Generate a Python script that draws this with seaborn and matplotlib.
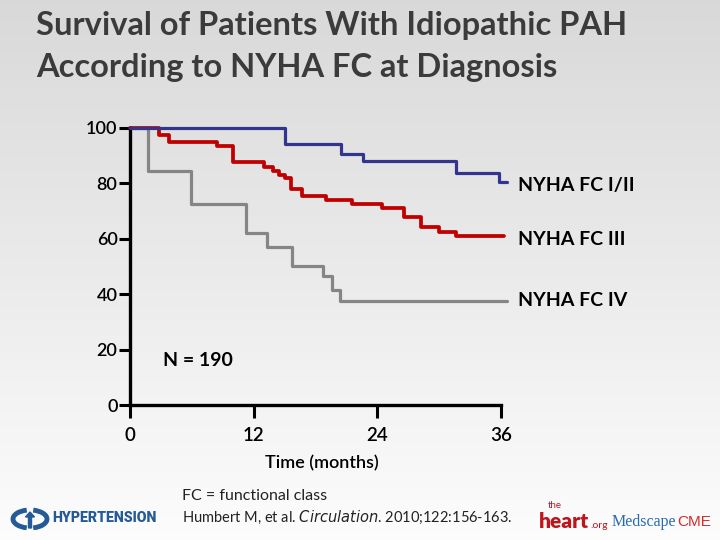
import matplotlib.pyplot as plt
import numpy as np
import pandas as pd
import seaborn as sns
from matplotlib.patches import Arc, FancyArrow

# Kaplan-Meier step curves (months, % surviving)
fc12_months = [0, 15.0, 20.5, 22.6, 31.6, 35.8, 36.6]
fc12_surv = [100, 94.2, 90.6, 88.1, 83.8, 80.5, 80.5]

fc3_months = [0, 2.8, 3.8, 8.4, 10.0, 13.0, 13.9, 14.5, 15.0, 15.6, 16.7,
              19.0, 21.5, 24.5, 26.6, 28.2, 30.0, 31.6, 36.3]
fc3_surv = [100, 97.5, 94.9, 93.5, 87.7, 85.9, 84.5, 83.0, 81.9, 78.0, 75.5,
            74.0, 72.6, 71.1, 67.9, 64.3, 62.5, 61.0, 61.0]

fc4_months = [0, 1.7, 5.9, 11.3, 13.3, 15.7, 18.7, 19.6, 20.4, 36.6]
fc4_surv = [100, 84.5, 72.6, 62.1, 57.0, 50.2, 46.6, 41.5, 37.5, 37.5]

groups = ["NYHA FC I/II", "NYHA FC III", "NYHA FC IV"]
x_ticks = [0, 12, 24, 36]
y_ticks = [0, 20, 40, 60, 80, 100]

sns.set_theme(style="white")
plt.rcParams["font.family"] = ["Lato", "DejaVu Sans"]

W, H = 720, 540
fig = plt.figure(figsize=(7.2, 5.4), dpi=100)


def fx(px):
    return px / W


def fy(py):
    return 1 - py / H


# background gradient, grey at the top fading to white
bg = fig.add_axes([0, 0, 1, 1], zorder=-10)
grad = np.linspace(0.85, 0.99, 256).reshape(-1, 1)
bg.imshow(np.dstack([grad, grad, grad]), aspect="auto", extent=[0, 1, 0, 1])
bg.set_axis_off()

# axes placed so 0 months sits at x=130px and 36 months at x=501px
px_per_month = (501 - 130) / 36
ax = fig.add_axes([fx(130), fy(405), 37 * px_per_month / W, (405 - 128) / H])
ax.patch.set_alpha(0)

frames = []
for g, t, s in zip(groups, [fc12_months, fc3_months, fc4_months],
                   [fc12_surv, fc3_surv, fc4_surv]):
    frames.append(pd.DataFrame({"group": g, "month": t, "survival": s}))
df = pd.concat(frames, ignore_index=True)

colors = {"NYHA FC I/II": "#33348e", "NYHA FC III": "#c00000", "NYHA FC IV": "#858585"}
widths = {"NYHA FC I/II": 2.3, "NYHA FC III": 2.7, "NYHA FC IV": 2.3}
for g in groups[::-1]:
    sns.lineplot(data=df[df.group == g], x="month", y="survival", color=colors[g],
                 lw=widths[g], drawstyle="steps-post", estimator=None, sort=False,
                 ax=ax, clip_on=False, zorder=3 if g == "NYHA FC I/II" else 2)

ax.set_xlim(0, 37)
ax.set_ylim(0, 100)
ax.set_xticks(x_ticks)
ax.set_yticks(y_ticks)
ax.set_xlabel("")
ax.set_ylabel("")
for side in ["top", "right"]:
    ax.spines[side].set_visible(False)
for side in ["left", "bottom"]:
    ax.spines[side].set_color("black")
    ax.spines[side].set_linewidth(2.4)
ax.spines["bottom"].set_bounds(0, 36)
ax.tick_params(axis="y", direction="out", length=8, width=2.2, pad=1,
               labelsize=13, colors="black", left=True)
ax.tick_params(axis="x", direction="out", length=9, width=2.2, pad=7,
               labelsize=13.5, colors="black", bottom=True)
for lab in ax.get_xticklabels() + ax.get_yticklabels():
    lab.set_fontweight("semibold")

# curve labels
for g, ypx in zip(groups, [186, 239, 300]):
    fig.text(fx(518), fy(ypx), g, fontsize=14, fontweight="bold", color="black",
             va="center", ha="left")

fig.text(fx(163), fy(360), "N = 190", fontsize=14, fontweight="bold",
         color="black", va="center")
fig.text(fx(322), fy(463), "Time (months)", fontsize=13, fontweight="semibold",
         color="black", va="center", ha="center")

# title
fig.text(fx(36), fy(25), "Survival of Patients With Idiopathic PAH",
         fontsize=23.5, fontweight="bold", color="#3b3b3b", va="center")
fig.text(fx(36), fy(68), "According to NYHA FC at Diagnosis",
         fontsize=23.5, fontweight="bold", color="#3b3b3b", va="center")

# footnotes
fig.text(fx(182), fy(496), "FC = functional class", fontsize=11.5,
         color="#222222", va="center")
fig.text(fx(182), fy(517),
         r"Humbert M, et al. $\it{Circulation}$. 2010;122:156-163.",
         fontsize=10.5, color="#222222", va="center")

# logos drawn as text
fig.text(fx(52), fy(518), "HYPERTENSION", fontsize=10.2, fontweight="heavy",
         color="#245a96", va="center", family=["Roboto", "DejaVu Sans"])
logo = fig.add_axes([fx(10), fy(530), fx(40), 24 / H])
logo.set_xlim(0, 40)
logo.set_ylim(0, 24)
logo.set_axis_off()
logo.add_patch(Arc((20, 11), 34, 18, theta1=110, theta2=250, lw=3.5, color="#245a96"))
logo.add_patch(Arc((20, 11), 34, 18, theta1=-70, theta2=70, lw=3.5, color="#245a96"))
logo.add_patch(FancyArrow(20, 2, 0, 16, width=3, head_width=9, head_length=5,
                          color="#245a96", length_includes_head=True))

fig.text(fx(548), fy(506), "the", fontsize=7, color="#c0141b", va="center")
fig.text(fx(539), fy(521), "heart", fontsize=15, fontweight="heavy",
         color="#c0141b", va="center")
fig.text(fx(590), fy(525), ".org", fontsize=7.5, color="#c0141b", va="center")
fig.text(fx(612), fy(522), "Medscape", fontsize=11.5, color="#2a6ab5", va="center",
         family=["Liberation Serif", "DejaVu Serif"])
fig.text(fx(677), fy(522), "CME", fontsize=11, color="#d52b2b", va="center",
         family=["Liberation Sans", "DejaVu Sans"])

fig.savefig("out.png", dpi=100)
